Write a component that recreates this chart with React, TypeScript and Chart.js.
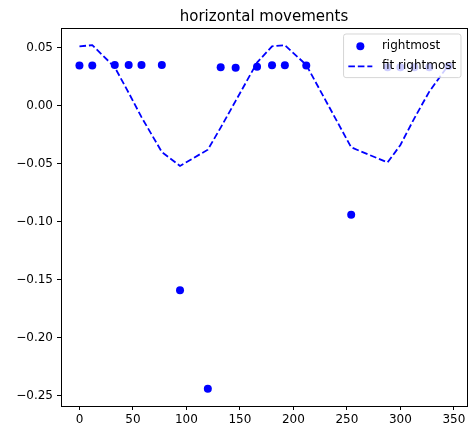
import React, { useEffect, useRef } from "react";
import { Chart, registerables } from "chart.js";

Chart.register(...registerables);

const xValues = [0, 12, 33, 46, 58, 77, 94, 120, 132, 146, 166, 180, 192, 212, 254, 288, 300, 313, 327, 345];
const rightmost = [0.0345, 0.0345, 0.035, 0.035, 0.035, 0.035, -0.159, -0.244, 0.033, 0.0325, 0.0335, 0.0348, 0.0348, 0.0345, -0.094, 0.033, 0.033, 0.033, 0.033, 0.034];
const fitRightmost = [0.051, 0.052, 0.033, 0.011, -0.01, -0.04, -0.052, -0.038, -0.019, 0.004, 0.037, 0.051, 0.052, 0.035, -0.036, -0.049, -0.034, -0.011, 0.012, 0.035];
const xTicks = [0, 50, 100, 150, 200, 250, 300, 350];
const yTicks = [-0.25, -0.2, -0.15, -0.1, -0.05, 0, 0.05];
const titleText = "horizontal movements";
const legendLabels = ["rightmost", "fit rightmost"];

const BLUE = "#0000ff";
const FONT = "DejaVu Sans";

function margins(vals: number[]) {
  const mn = Math.min(...vals);
  const mx = Math.max(...vals);
  const pad = (mx - mn) * 0.05;
  return [mn - pad, mx + pad];
}

const framePlugin = {
  id: "frame",
  afterDraw(chart: any) {
    const { ctx, chartArea } = chart;
    const { left, right, top, bottom } = chartArea;
    ctx.save();
    // top/right spines
    ctx.strokeStyle = "#000";
    ctx.lineWidth = 1;
    ctx.beginPath();
    ctx.moveTo(Math.round(left), Math.round(top) + 0.5);
    ctx.lineTo(Math.round(right), Math.round(top) + 0.5);
    ctx.moveTo(Math.round(right) + 0.5, Math.round(top));
    ctx.lineTo(Math.round(right) + 0.5, Math.round(bottom));
    ctx.stroke();

    // title
    ctx.fillStyle = "#000";
    ctx.font = `15px "${FONT}"`;
    ctx.textAlign = "center";
    ctx.textBaseline = "alphabetic";
    ctx.fillText(titleText, (left + right) / 2, top - 7);

    // legend
    ctx.font = `12px "${FONT}"`;
    const fs = 12;
    const borderpad = 0.4 * fs;
    const handleLen = 2 * fs;
    const handlePad = 0.8 * fs;
    const textW = Math.max(...legendLabels.map((l) => ctx.measureText(l).width));
    const boxW = borderpad * 2 + handleLen + handlePad + textW;
    const rowH = 14;
    const spacing = 0.5 * fs;
    const boxH = borderpad * 2 + rowH * 2 + spacing;
    const bx = right - 0.5 * fs - boxW;
    const by = top + 0.5 * fs;
    ctx.beginPath();
    (ctx as any).roundRect(bx, by, boxW, boxH, 2.5);
    ctx.fillStyle = "rgba(255,255,255,0.8)";
    ctx.fill();
    ctx.strokeStyle = "rgba(204,204,204,0.8)";
    ctx.lineWidth = 1;
    ctx.stroke();

    const hx = bx + borderpad;
    const tx = hx + handleLen + handlePad;
    const r1 = by + borderpad + rowH / 2 + 0.5;
    const r2 = r1 + rowH + spacing;
    // marker
    ctx.fillStyle = BLUE;
    ctx.beginPath();
    ctx.arc(hx + handleLen / 2, r1, 4, 0, Math.PI * 2);
    ctx.fill();
    // dashed handle
    ctx.strokeStyle = BLUE;
    ctx.lineWidth = 1.8;
    ctx.setLineDash([6.6, 2.9]);
    ctx.beginPath();
    ctx.moveTo(hx, r2);
    ctx.lineTo(hx + handleLen, r2);
    ctx.stroke();
    ctx.setLineDash([]);
    // labels
    ctx.fillStyle = "#000";
    ctx.textAlign = "left";
    ctx.textBaseline = "middle";
    ctx.fillText(legendLabels[0], tx, r1);
    ctx.fillText(legendLabels[1], tx, r2);
    ctx.restore();
  },
};

function fmtY(v: number) {
  const s = Math.abs(v).toFixed(2);
  return v < -1e-9 ? "\u2212" + s : s;
}

export default function App() {
  const ref = useRef<HTMLCanvasElement | null>(null);
  useEffect(() => {
    if (!ref.current) return;
    const [xmin, xmax] = margins(xValues);
    const [ymin, ymax] = margins([...rightmost, ...fitRightmost]);
    const tickFont = { family: FONT, size: 12 };
    const chart = new Chart(ref.current, {
      type: "scatter",
      data: {
        datasets: [
          {
            type: "line",
            label: legendLabels[1],
            data: xValues.map((x, i) => ({ x, y: fitRightmost[i] })),
            borderColor: BLUE,
            borderWidth: 1.8,
            borderDash: [6.6, 2.9],
            pointRadius: 0,
            fill: false,
            tension: 0,
            order: 0,
          } as any,
          {
            type: "scatter",
            label: legendLabels[0],
            data: xValues.map((x, i) => ({ x, y: rightmost[i] })),
            backgroundColor: BLUE,
            borderWidth: 0,
            pointRadius: 4,
            order: 1,
          },
        ],
      },
      options: {
        responsive: false,
        animation: false,
        layout: { padding: { left: 0, right: 4, top: 28, bottom: 0 } },
        plugins: { legend: { display: false }, title: { display: false }, tooltip: { enabled: false } },
        scales: {
          x: {
            type: "linear",
            min: xmin,
            max: xmax,
            afterBuildTicks: (s: any) => {
              s.ticks = xTicks.map((v) => ({ value: v }));
            },
            afterFit: (s: any) => {
              s.height = 23;
            },
            ticks: { font: tickFont, color: "#000", padding: 3, maxRotation: 0, autoSkip: false, callback: (v: any) => String(v) },
            grid: { drawOnChartArea: false, drawTicks: true, tickLength: 4, tickColor: "#000", tickWidth: 1 },
            border: { color: "#000", width: 1 },
          },
          y: {
            type: "linear",
            min: ymin,
            max: ymax,
            afterBuildTicks: (s: any) => {
              s.ticks = yTicks.map((v) => ({ value: v }));
            },
            afterFit: (s: any) => {
              s.width = 61;
            },
            ticks: { font: tickFont, color: "#000", padding: 4, autoSkip: false, callback: (v: any) => fmtY(Number(v)) },
            grid: { drawOnChartArea: false, drawTicks: true, tickLength: 4, tickColor: "#000", tickWidth: 1 },
            border: { color: "#000", width: 1 },
          },
        },
      },
      plugins: [framePlugin],
    });
    return () => chart.destroy();
  }, []);
  return (
    <div style={{ position: "fixed", left: 0, top: 0, width: 471, height: 429, background: "#fff" }}>
      <canvas ref={ref} width={471} height={429} style={{ width: 471, height: 429, display: "block" }} />
    </div>
  );
}
